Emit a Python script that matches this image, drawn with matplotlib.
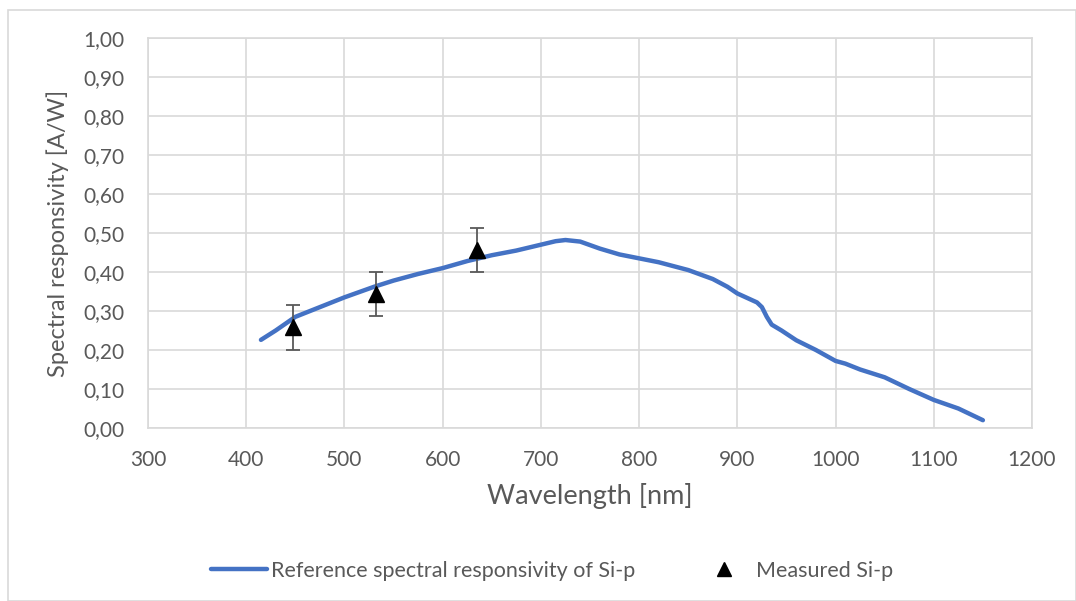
import matplotlib
matplotlib.use("Agg")
import matplotlib.pyplot as plt
from matplotlib.lines import Line2D
from matplotlib.patches import Rectangle
from matplotlib.ticker import FuncFormatter, MultipleLocator

# reference curve
ref_wl = [415, 430, 450, 475, 500, 530, 550, 575, 600, 625, 650, 675, 700, 715, 725,
          740, 760, 780, 800, 820, 850, 875, 890, 900, 920, 925, 930, 935, 945, 960,
          980, 1000, 1010, 1025, 1050, 1075, 1100, 1125, 1150]
ref_sr = [0.226, 0.250, 0.285, 0.310, 0.335, 0.362, 0.378, 0.395, 0.410, 0.428, 0.443, 0.455,
          0.470, 0.479, 0.482, 0.478, 0.460, 0.445, 0.435, 0.425, 0.405, 0.382, 0.362, 0.345,
          0.322, 0.310, 0.285, 0.265, 0.250, 0.225, 0.200, 0.172, 0.165, 0.150, 0.130,
          0.100, 0.072, 0.050, 0.020]

# measured points with error bars
meas_wl = [448, 532, 635]
meas_sr = [0.258, 0.343, 0.457]
meas_err = [0.058, 0.057, 0.057]

GREY = "#595959"
BLUE = "#4472C4"

fig = plt.figure(figsize=(10.76, 6.01), dpi=100)
fig.patches.append(Rectangle((8 / 1076, 0), 1 - 8 / 1076, 1 - 10 / 601, transform=fig.transFigure,
                             fill=False, edgecolor="#d9d9d9", lw=1.2))
ax = fig.add_axes([148 / 1076, 1 - 428 / 601, (1032 - 148) / 1076, (428 - 38) / 601])

ax.plot(ref_wl, ref_sr, color=BLUE, lw=3.2, solid_capstyle="round", zorder=3)
ax.errorbar(meas_wl, meas_sr, yerr=meas_err, fmt="^", color="black", ms=12,
            ecolor=GREY, elinewidth=1.3, capsize=5, capthick=1.3, zorder=4)

ax.set_xlim(300, 1200)
ax.set_ylim(0, 1.0)
ax.xaxis.set_major_locator(MultipleLocator(100))
ax.yaxis.set_major_locator(MultipleLocator(0.1))
ax.yaxis.set_major_formatter(FuncFormatter(lambda v, p: f"{v:.2f}".replace(".", ",")))
ax.grid(True, color="#d9d9d9", lw=1.2)
ax.set_axisbelow(True)
for s in ax.spines.values():
    s.set_color("#d9d9d9")
    s.set_linewidth(1.2)
ax.tick_params(length=0, labelsize=15, labelcolor=GREY)
ax.tick_params(axis="x", pad=16)
ax.tick_params(axis="y", pad=17)
for t in ax.get_xticklabels() + ax.get_yticklabels():
    t.set_fontfamily("Lato")

ax.set_xlabel("Wavelength [nm]", fontsize=19.5, color=GREY, family="Lato", labelpad=9)
ax.set_ylabel("Spectral responsivity [A/W]", fontsize=17, color=GREY, family="Lato", labelpad=10)

handles = [Line2D([], [], color=BLUE, lw=3.2, solid_capstyle="round"),
           Line2D([], [], color="black", marker="^", ms=10, ls="none")]
labels = ["Reference spectral responsivity of Si-p", "Measured Si-p"]
leg = fig.legend(handles, labels, loc="center", bbox_to_anchor=(552 / 1076, 1 - 571 / 601), ncol=2,
                 frameon=False, prop={"family": "Lato", "size": 15.5}, handlelength=2.6,
                 columnspacing=2.8, handletextpad=0.2)
for t in leg.get_texts():
    t.set_color(GREY)

fig.savefig("out.png", dpi=100)
